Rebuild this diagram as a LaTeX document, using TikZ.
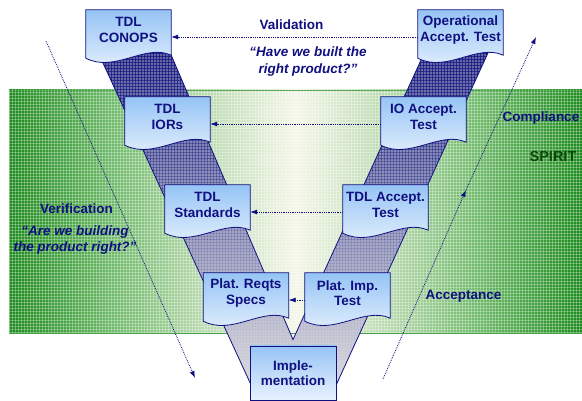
\documentclass[tikz,border=0pt]{standalone}
\usepackage{fontspec}
\setmainfont{Liberation Sans}
\usetikzlibrary{arrows.meta, calc, patterns}
\pgfdeclarelayer{back}
\pgfdeclarelayer{docs}
\pgfsetlayers{back,docs,main}

\definecolor{navy}{RGB}{16,16,128}
\definecolor{docTop}{RGB}{150,196,245}
\definecolor{docBot}{RGB}{232,242,254}
\definecolor{bandDark}{RGB}{28,138,28}
\definecolor{bandMid}{RGB}{110,185,105}
\definecolor{bandPale}{RGB}{185,218,175}
\definecolor{bandLight}{RGB}{244,246,232}
\definecolor{spiritGreen}{RGB}{12,72,12}
\definecolor{vTop}{RGB}{92,96,160}
\definecolor{vBot}{RGB}{222,222,224}

\pgfdeclarehorizontalshading{bandshade}{100bp}{color(0bp)=(bandDark); color(25bp)=(bandDark);
  color(34bp)=(bandMid); color(42bp)=(bandPale); color(50bp)=(bandLight); color(58bp)=(bandPale);
  color(66bp)=(bandMid); color(75bp)=(bandDark); color(100bp)=(bandDark)}

\tikzset{
  doc/.style={minimum width=85pt, minimum height=40pt, inner sep=1pt, align=center,
    text=navy, font=\fontsize{13.5}{15.5}\selectfont\bfseries},
  docline/.style={draw=navy, line width=0.8pt, top color=docTop, bottom color=docBot},
  link/.style={navy, densely dotted, line width=0.8pt, -{Latex[length=7pt,width=5pt]}},
  lbl/.style={text=navy, align=center, font=\fontsize{13.5}{16}\selectfont\bfseries},
  quote/.style={text=navy, align=center, font=\fontsize{13.5}{16.5}\selectfont\bfseries\itshape}
}

\begin{document}
\begin{tikzpicture}[x=1pt, y=-1pt]
\useasboundingbox (0,0) rectangle (582,401);

\begin{pgfonlayer}{back}
\draw[draw=bandDark!80, shading=bandshade] (9,90) rectangle (582,333);
\fill[pattern=grid, pattern color=white, opacity=0.3] (9,90) rectangle (582,333);
\draw[draw=navy, line width=0.8pt, top color=vTop, bottom color=vBot]
  (92.4,40) -- (255.7,395) -- (331.6,395) -- (493.9,40) -- (430.2,40) -- (293,339.6) -- (164.7,40) -- cycle;
\begin{scope}
  \clip (92.4,40) -- (255.7,395) -- (331.6,395) -- (493.9,40) -- (430.2,40) -- (293,339.6) -- (164.7,40) -- cycle;
  \foreach \y [evaluate=\y as \op using {0.75*((395-\y)/355)^2}] in {40,50,...,390}
    \fill[pattern=grid, pattern color=navy, opacity=\op] (80,\y) rectangle (510,\y+10);
\end{scope}
\end{pgfonlayer}

\node[doc] (conops) at (128.5,30) {TDL\\CONOPS};
\node[doc] (iors) at (167.5,117) {TDL\\IORs};
\node[doc] (stds) at (207.5,205) {TDL\\Standards};
\node[doc] (reqts) at (246,293) {Plat. Reqts\\Specs};
\node[doc] (opacc) at (460.5,30) {Operational\\Accept. Test};
\node[doc] (ioacc) at (423.5,117) {IO Accept.\\Test};
\node[doc] (tdlacc) at (385.5,205) {TDL Accept.\\Test};
\node[doc] (impt) at (347.5,293) {Plat. Imp.\\Test};
\node[doc, docline, minimum width=86pt, minimum height=54pt] (impl) at (293,373) {Imple-\\mentation};

\begin{pgfonlayer}{docs}
\foreach \d in {conops,iors,stds,reqts,opacc,ioacc,tdlacc,impt}
  \draw[docline] (\d.north west) -- (\d.north east) -- ($(\d.south east)+(0,5)$)
    .. controls ($(\d.south east)+(-26,-7)$) and ($(\d.south west)+(29,23)$) .. ($(\d.south west)+(0,8)$) -- cycle;
\end{pgfonlayer}

\draw[link] ([yshift=-7pt]opacc.west) -- ([yshift=-7pt]conops.east);
\draw[link] ([yshift=-7pt]ioacc.west) -- ([yshift=-7pt]iors.east);
\draw[link] ([yshift=-7pt]tdlacc.west) -- ([yshift=-7pt]stds.east);
\draw[link] ([yshift=-7pt]impt.west) -- ([yshift=-7pt]reqts.east);

\coordinate (vstart) at (46,41);
\coordinate (vend) at (195,378);
\coordinate (astart) at (383,379);
\coordinate (amid) at (466,190);
\coordinate (cend) at (536,37);
\draw[link] (vstart) -- (vend);
\draw[link] (astart) -- (amid);
\draw[link] (amid) -- (cend);

\node[lbl] (valid) at (291.5,25) {Validation};
\node[quote] (validq) at (308,61.5) {“Have we built the\\right product?”};
\node[lbl] (verif) at (76.5,209) {Verification};
\node[quote, font=\fontsize{13.5}{16}\selectfont\bfseries\itshape] (verifq) at (75,240) {“Are we building\\the product right?”};
\node[lbl] (compl) at (541,118) {Compliance};
\node[lbl, text=spiritGreen, font=\fontsize{14.5}{16}\selectfont\bfseries] (spirit) at (553,157) {SPIRIT};
\node[lbl] (accept) at (463.5,296) {Acceptance};
\end{tikzpicture}
\end{document}
